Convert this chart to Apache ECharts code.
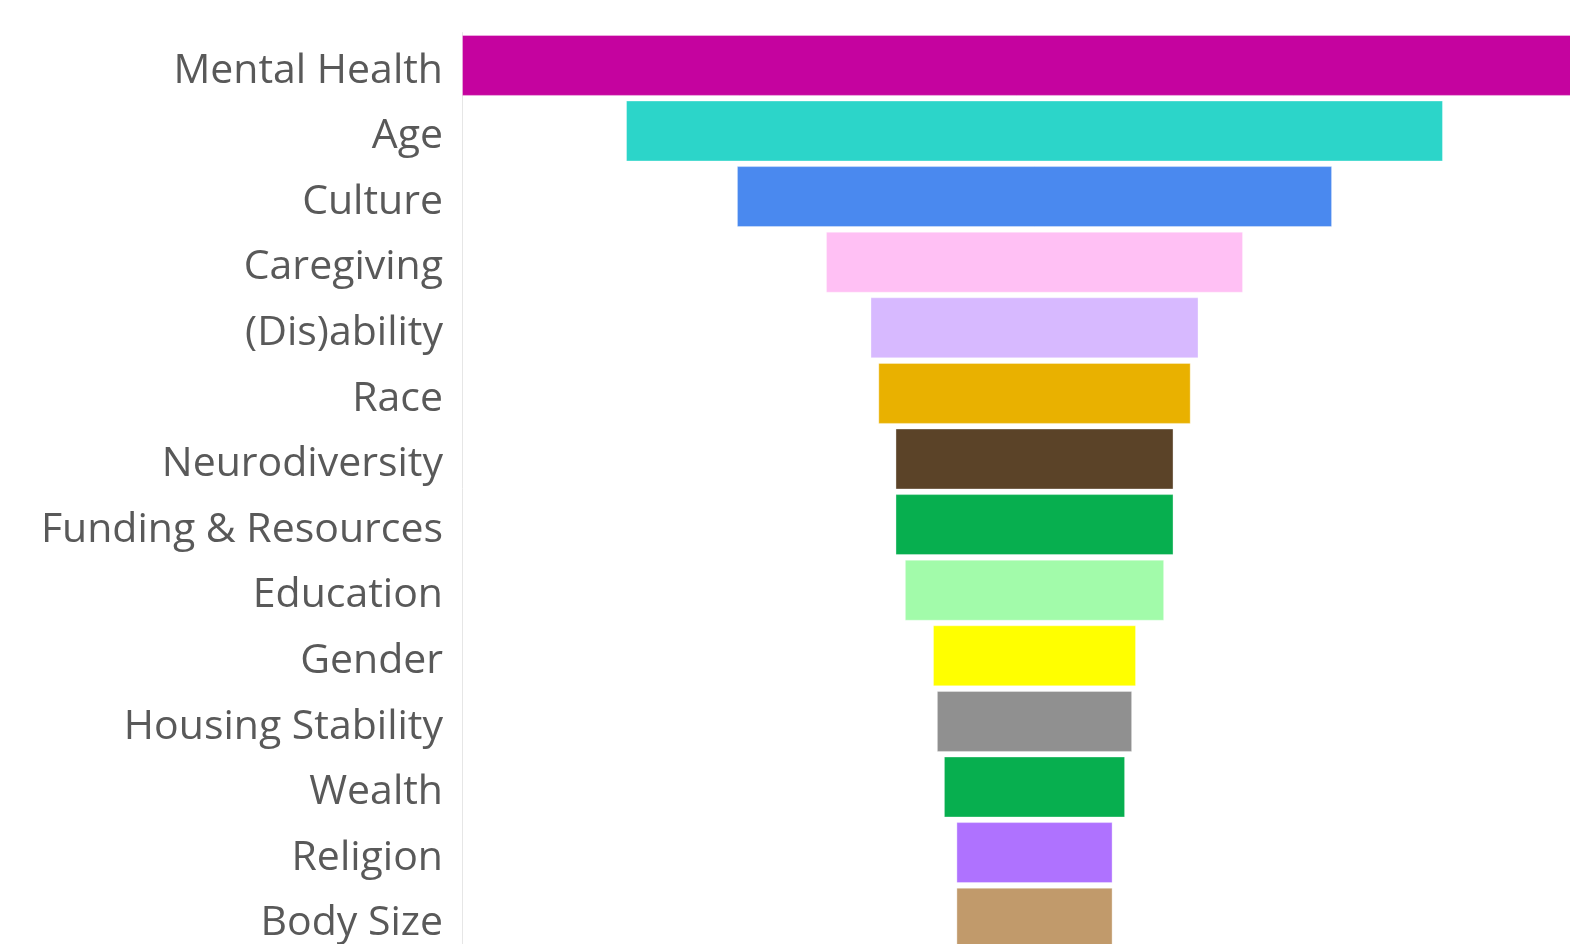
<!DOCTYPE html>
<html>
<head>
<meta charset="utf-8">
<title>Themes</title>
<script src="https://cdn.jsdelivr.net/npm/echarts@6/dist/echarts.min.js"></script>
<style>
  html, body { margin: 0; padding: 0; background: #ffffff; }
  #chart { width: 1570px; height: 944px; }
</style>
</head>
<body>
<div id="chart"></div>
<script>
// Themes, largest first
const categories = [
  'Mental Health', 'Age', 'Culture', 'Caregiving', '(Dis)ability', 'Race',
  'Neurodiversity', 'Funding & Resources', 'Education', 'Gender',
  'Housing Stability', 'Wealth', 'Religion', 'Body Size'
];
const values = [73.3, 52.3, 38.1, 26.7, 21.0, 20.0, 17.8, 17.8, 16.6, 13.0, 12.5, 11.6, 10.0, 10.0];
const colors = [
  '#C5039F', '#2CD5C9', '#4A89EF', '#FFC0F4', '#D7B9FF', '#E9B100',
  '#5B4328', '#07AF4F', '#A2FBAA', '#FFFF00', '#909090', '#07AF4F',
  '#AF72FF', '#C19A6B'
];

const maxValue = Math.max(...values);
// invisible offset so each bar sits centred on the widest one
const offsets = values.map(v => (maxValue - v) / 2);

const chart = echarts.init(document.getElementById('chart'), null, { renderer: 'canvas' });
chart.setOption({
  animation: false,
  backgroundColor: '#ffffff',
  grid: {
    left: 462, top: 32.6, width: 1145, height: 918.4,
    containLabel: false,
    outerBoundsMode: 'none'
  },
  xAxis: {
    type: 'value',
    min: 0,
    max: maxValue,
    show: false
  },
  yAxis: {
    type: 'category',
    data: categories,
    inverse: true,
    axisLine: { show: true, lineStyle: { color: '#e6e6e6', width: 1 } },
    axisTick: { show: false },
    splitLine: { show: false },
    axisLabel: {
      margin: 19,
      formatter: value => '{t|' + value + '}',
      rich: {
        t: {
          fontSize: 41,
          color: '#595959',
          fontFamily: 'Open Sans',
          padding: [11, 0, 0, 0]
        }
      }
    }
  },
  series: [
    {
      type: 'bar',
      stack: 'funnel',
      silent: true,
      barCategoryGap: '7%',
      itemStyle: { color: 'rgba(0,0,0,0)' },
      data: offsets
    },
    {
      type: 'bar',
      stack: 'funnel',
      barCategoryGap: '7%',
      data: values.map((v, i) => ({
        value: v,
        itemStyle: {
          color: colors[i],
          borderColor: 'rgba(255,255,255,0.35)',
          borderWidth: 1
        }
      }))
    }
  ]
});
</script>
</body>
</html>
